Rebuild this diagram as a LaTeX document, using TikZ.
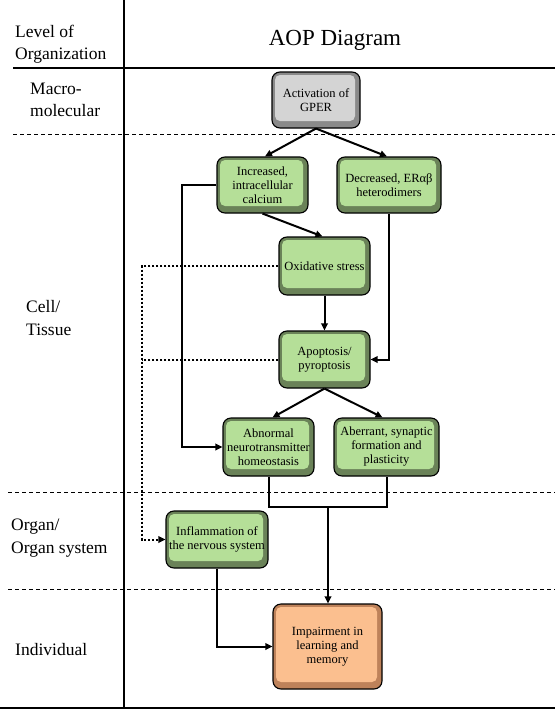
\documentclass[tikz,border=0pt]{standalone}
\usepackage{fontspec}
\setmainfont{Liberation Serif}
\usetikzlibrary{arrows.meta}
\definecolor{dkgreen}{HTML}{6A8258}
\definecolor{ltgreen}{HTML}{B5DF98}
\definecolor{dkgrey}{HTML}{8A8A8A}
\definecolor{ltgrey}{HTML}{D4D4D4}
\definecolor{dkorange}{HTML}{BE825A}
\definecolor{ltorange}{HTML}{FBBF8F}
\tikzset{
  bevel/.style 2 args={draw=black, line width=1.1pt, rounded corners=8pt, fill=#1,
    path picture={\fill[#2, rounded corners=5pt] ([shift={(3pt,7pt)}]path picture bounding box.south west) rectangle ([shift={(-5pt,-3pt)}]path picture bounding box.north east);},
    align=center, font=\fontsize{12.5}{14}\selectfont, inner sep=0pt},
  gbox/.style={bevel={dkgreen}{ltgreen}},
  greybox/.style={bevel={dkgrey}{ltgrey}},
  obox/.style={bevel={dkorange}{ltorange}},
  arr/.style={-{Triangle[length=7pt,width=6.5pt]}, line width=2pt},
  conn/.style={line width=2pt},
  dotline/.style={line width=2pt, dash pattern=on 2pt off 2pt},
  dotarr/.style={dotline, -{Triangle[length=7pt,width=6.5pt]}},
  sep/.style={line width=0.9pt, dash pattern=on 4pt off 3pt},
  rule/.style={line width=2.2pt},
  level/.style={anchor=west, align=left, font=\fontsize{17.5}{22.5}\selectfont, inner sep=0pt},
}
\begin{document}
\begin{tikzpicture}[x=1pt,y=-1pt]
\useasboundingbox (0,0) rectangle (555,710);
% frame
\draw[rule] (124,0) -- (124,708);
\draw[rule] (13,68) -- (555,68);
\draw[rule] (0,708) -- (555,708);
\draw[sep] (13,134) -- (555,134);
\draw[sep] (8,492) -- (555,492);
\draw[sep] (8,589) -- (555,589);
% headings
\node[level] (lvl) at (15,44) {Level of\\Organization};
\node[font=\fontsize{23}{26}\selectfont, inner sep=0pt] (title) at (335,40) {AOP Diagram};
\node[level] (macro) at (30,100) {Macro-\\molecular};
\node[level] (cell) at (26,318) {Cell/\\Tissue};
\node[level] (organ) at (11,538) {Organ/\\Organ system};
\node[level] (ind) at (15,650) {Individual};
% boxes
\node[greybox, minimum width=88pt, minimum height=56pt] (gper) at (316,100) {Activation of\\GPER};
\node[gbox, minimum width=91pt, minimum height=56pt] (inc) at (262.5,185) {Increased,\\intracellular\\calcium};
\node[gbox, minimum width=104pt, minimum height=56pt] (dec) at (389,185) {Decreased, ERαβ\\heterodimers};
\node[gbox, minimum width=91pt, minimum height=58pt] (ox) at (324.5,266) {Oxidative stress};
\node[gbox, minimum width=91pt, minimum height=57pt] (apo) at (324.5,359.5) {Apoptosis/\\pyroptosis};
\node[gbox, minimum width=91pt, minimum height=58pt] (abn) at (268.5,447) {Abnormal\\neurotransmitter\\homeostasis};
\node[gbox, minimum width=105pt, minimum height=58pt] (abe) at (386.5,447) {Aberrant, synaptic\\formation and\\plasticity};
\node[gbox, minimum width=102pt, minimum height=57pt] (inf) at (217,539.5) {Inflammation of\\the nervous system};
\node[obox, minimum width=109pt, minimum height=85pt] (imp) at (327.5,646.5) {Impairment in\\learning and\\memory};
% connectors
\draw[arr] (gper.south) -- ([xshift=2.5pt]inc.north);
\draw[arr] (gper.south) -- ([xshift=-2pt]dec.north);
\draw[arr] (inc.south) -- ([xshift=-2pt]ox.north);
\draw[arr] (inc.west) -- ++(-34,0) |- (abn.west);
\draw[arr] (dec.south) |- (apo.east);
\draw[arr] (ox.south) -- (apo.north);
\draw[arr] (apo.south) -- ([xshift=4pt]abn.north);
\draw[arr] (apo.south) -- ([xshift=-4pt]abe.north);
\coordinate (join) at (328,507);
\draw[conn] (abn.south) |- (join) -| (abe.south);
\draw[arr] (join) -- (join |- imp.north);
\draw[arr] (inf.south) |- (imp.west);
\coordinate (dl) at (142,266);
\draw[dotarr] (ox.west) -- (ox.west -| dl) |- (inf.west);
\draw[dotline] (apo.west) -- (apo.west -| dl);
\end{tikzpicture}
\end{document}
